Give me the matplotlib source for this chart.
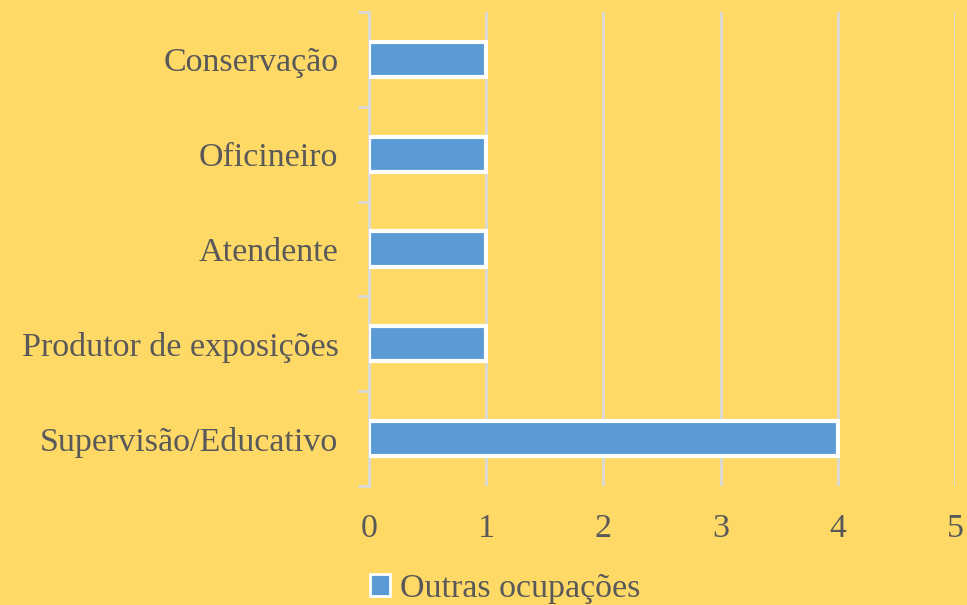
import matplotlib
matplotlib.use("Agg")
import matplotlib.pyplot as plt
from matplotlib.patches import Patch
from matplotlib.ticker import FixedLocator

categories = ["Supervisão/Educativo", "Produtor de exposições", "Atendente", "Oficineiro", "Conservação"]
values = [4, 1, 1, 1, 1]
series_name = "Outras ocupações"
xticks = [0, 1, 2, 3, 4, 5]

bg = "#FFD966"
bar_color = "#5B9BD5"
text_color = "#595959"
grid_color = "#D9D9D9"

plt.rcParams['font.family'] = ['Liberation Serif', 'DejaVu Serif']

fig = plt.figure(figsize=(9.67, 6.05), dpi=100, facecolor=bg)
ax = fig.add_axes([369/967, 1-486/605, (955-369)/967, (486-12)/605])
ax.set_facecolor(bg)

y = list(range(len(categories)))
ax.barh(y, values, height=0.37, color=bar_color, edgecolor="white", linewidth=3, zorder=3)

ax.set_xlim(0, 5)
ax.set_ylim(-0.5, len(categories)-0.5)
ax.set_xticks(xticks)
ax.set_xticklabels([str(t) for t in xticks])
ax.set_yticks(y)
ax.set_yticklabels(categories)
ax.yaxis.set_minor_locator(FixedLocator([i-0.5 for i in range(len(categories)+1)]))
ax.tick_params(axis='y', which='major', length=0, pad=22, labelsize=24.5, labelcolor=text_color)
ax.tick_params(axis='y', which='minor', length=8, width=2, color=grid_color)
ax.tick_params(axis='x', which='major', length=0, pad=20, labelsize=24.5, labelcolor=text_color)

ax.grid(axis='x', color=grid_color, linewidth=2, zorder=0)
for s in ['top', 'right', 'bottom']:
    ax.spines[s].set_visible(False)
ax.spines['left'].set_color(grid_color)
ax.spines['left'].set_linewidth(2)

handle = Patch(facecolor=bar_color, edgecolor="white", linewidth=2, label=series_name)
fig.legend(handles=[handle], loc='center', bbox_to_anchor=(505/967, 1-589/605),
           frameon=False, fontsize=24.5, labelcolor=text_color,
           handlelength=0.6, handleheight=0.6, handletextpad=0.3)

fig.savefig("out.png", dpi=100, facecolor=bg)
